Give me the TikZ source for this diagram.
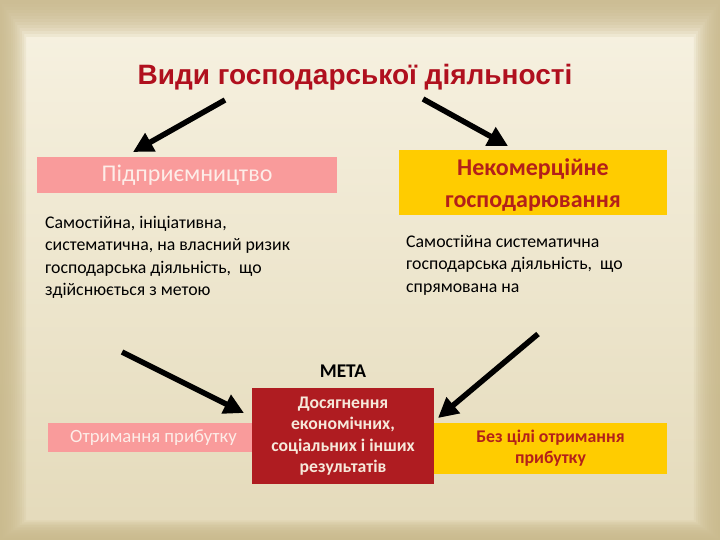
\documentclass[tikz,border=0pt]{standalone}
\usepackage{fontspec}
\setmainfont{Carlito}
\newfontfamily\titlefont{Liberation Sans}
\usetikzlibrary{arrows.meta}
\definecolor{edgecol}{HTML}{C9B98C}
\definecolor{bgtop}{HTML}{F7F2E2}
\definecolor{bgmid}{HTML}{FBF9F2}
\definecolor{bgbot}{HTML}{E4DABA}
\definecolor{titlered}{HTML}{B0101E}
\definecolor{pinkbox}{HTML}{F99B9B}
\definecolor{pinktext}{HTML}{FDEDE8}
\definecolor{goldbox}{HTML}{FFCC00}
\definecolor{goldtext}{HTML}{B3201A}
\definecolor{redbox}{HTML}{AF1C21}
\definecolor{redtext}{HTML}{F6E8DA}
\tikzset{
  bigarrow/.style={line width=5.5pt, -{Triangle[length=20pt,width=20pt]}},
  plainbox/.style={inner sep=0pt, outer sep=0pt},
  bodytext/.style={align=left, anchor=north west, inner sep=0pt, font=\fontsize{17.8}{22.5}\selectfont},
}
\begin{document}
\begin{tikzpicture}[x=1pt,y=-1pt]
\useasboundingbox (0,0) rectangle (720,540);
% background
\shade[top color=bgtop, middle color=bgmid, bottom color=bgbot] (0,0) rectangle (720,540);
\foreach \i in {0,...,11}{
  \fill[edgecol, fill opacity=0.16, even odd rule]
    (0,0) rectangle (720,540)
    ({2+\i*2.2},{4+\i*3}) rectangle ({718-\i*2.2},{538-\i*1.6});
}
% title
\node[font=\titlefont\bfseries\fontsize{28}{32}\selectfont, text=titlered] (title) at (355,77) {Види господарської діяльності};
% top boxes
\node[plainbox, fill=pinkbox, minimum width=300pt, minimum height=36pt, text=pinktext,
      font=\fontsize{24}{26}\selectfont] (pidpr) at (187,175) {Підприємництво};
\node[plainbox, fill=goldbox, minimum width=268pt, minimum height=65pt] (nekom) at (533,182.5) {};
\node[plainbox, text=goldtext, align=center, font=\bfseries\fontsize{24}{32}\selectfont]
      (nekomtxt) at ([yshift=-3pt]nekom.center) {Некомерційне\\господарювання};
% descriptions
\node[bodytext] (desc1) at (45,216) {Самостійна, ініціативна,\\систематична, на власний ризик\\господарська діяльність,\ \ що\\здійснюється з метою};
\node[bodytext] (desc2) at (406,235) {Самостійна систематична\\господарська діяльність,\ \ що\\спрямована на};
% goal
\node[font=\bfseries\fontsize{19.4}{22}\selectfont] (meta) at (343,371) {МЕТА};
\node[plainbox, fill=redbox, minimum width=182pt, minimum height=96pt, text=redtext, align=center,
      font=\bfseries\fontsize{17.7}{21.5}\selectfont] (dosyag) at (343,436) {Досягнення\\економічних,\\соціальних і інших\\результатів};
\node[plainbox, fill=pinkbox, minimum width=204pt, minimum height=29pt, text=pinktext, anchor=east,
      font=\fontsize{18.7}{20}\selectfont] (otrym) at (dosyag.west |- 0,437.5) {\hspace*{7pt}Отримання прибутку\hfill};
\node[plainbox, fill=goldbox, minimum width=233pt, minimum height=51pt, text=goldtext, anchor=west, align=center,
      font=\bfseries\fontsize{17.8}{21}\selectfont] (bez) at (dosyag.east |- 0,448.5) {Без цілі отримання\\прибутку};
% arrow coordinates
\coordinate (a1s) at (225,100);
\coordinate (a1e) at (133,152);
\coordinate (a2s) at (423,99);
\coordinate (a2e) at (508,146);
\coordinate (a3s) at (122,352);
\coordinate (a3e) at (244,413);
\coordinate (a4s) at (538,334);
\coordinate (a4e) at (438,418);
\draw[bigarrow] (a1s) -- (a1e);
\draw[bigarrow] (a2s) -- (a2e);
\draw[bigarrow] (a3s) -- (a3e);
\draw[bigarrow] (a4s) -- (a4e);
\end{tikzpicture}
\end{document}
